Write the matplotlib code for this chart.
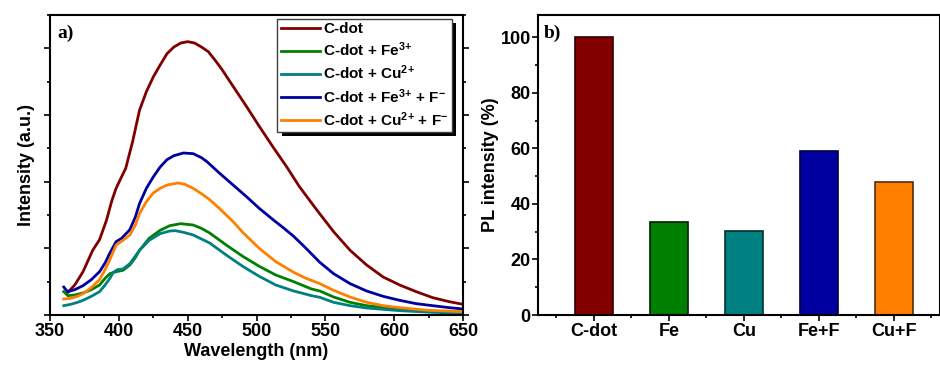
import matplotlib
matplotlib.use("Agg")
import matplotlib.pyplot as plt
from matplotlib.patches import Rectangle
from matplotlib.ticker import MultipleLocator, FixedLocator, NullFormatter

plt.rcParams['font.family'] = ['Liberation Sans', 'DejaVu Sans']
plt.rcParams['font.weight'] = 'bold'
plt.rcParams['mathtext.fontset'] = 'custom'
plt.rcParams['mathtext.rm'] = 'Liberation Sans:bold'
plt.rcParams['mathtext.bf'] = 'Liberation Sans:bold'
plt.rcParams['mathtext.it'] = 'Liberation Sans:bold'

# ---------------- data: panel a (PL spectra) ----------------
wl_cdot = [363, 368, 374, 381, 386, 391, 395, 398, 401, 405, 410, 415, 420, 425, 430, 435,
           440, 445, 450, 455, 460, 465, 470, 475, 483, 493, 502, 512, 522, 531, 544, 556,
           568, 580, 592, 604, 616, 628, 640, 650]
int_cdot = [0.34, 0.45, 0.65, 0.97, 1.13, 1.42, 1.72, 1.90, 2.03, 2.20, 2.60, 3.07, 3.35, 3.57,
            3.75, 3.92, 4.02, 4.08, 4.10, 4.08, 4.02, 3.95, 3.82, 3.68, 3.43, 3.12, 2.83, 2.52,
            2.22, 1.93, 1.57, 1.25, 0.97, 0.75, 0.57, 0.45, 0.35, 0.26, 0.20, 0.16]

wl_fe = [360, 363, 368, 374, 380, 386, 390, 393.5, 398, 403, 408, 412, 415, 422, 430, 437,
         445, 454, 460, 466, 478, 490, 502, 514, 527, 540, 546, 556, 568, 580, 604, 628, 650]
int_fe = [0.35, 0.29, 0.30, 0.33, 0.38, 0.45, 0.55, 0.62, 0.65, 0.67, 0.75, 0.86, 0.97, 1.15,
          1.27, 1.34, 1.37, 1.35, 1.30, 1.23, 1.05, 0.88, 0.73, 0.60, 0.50, 0.39, 0.36, 0.27,
          0.19, 0.14, 0.085, 0.055, 0.04]

wl_cu = [360, 365, 370, 374, 380, 386, 390, 393.5, 396, 399, 403, 408, 415, 422, 430, 437,
         441, 447, 454, 466, 478, 490, 502, 514, 527, 540, 546, 556, 568, 580, 604, 628, 650]
int_cu = [0.14, 0.16, 0.19, 0.22, 0.28, 0.35, 0.45, 0.55, 0.64, 0.68, 0.69, 0.77, 0.97, 1.12,
          1.22, 1.26, 1.265, 1.24, 1.20, 1.08, 0.90, 0.73, 0.58, 0.45, 0.36, 0.29, 0.265, 0.19,
          0.14, 0.105, 0.065, 0.04, 0.025]

wl_fef = [360, 361.5, 363, 368, 374, 380, 386, 390, 393.5, 398, 402, 408, 412, 415, 420, 425,
          430, 435, 440, 447, 454, 460, 464, 473, 483, 493, 502, 512, 520, 527, 535, 546, 556,
          568, 580, 592, 604, 616, 628, 640, 650]
int_fef = [0.42, 0.38, 0.35, 0.38, 0.44, 0.53, 0.65, 0.78, 0.93, 1.10, 1.15, 1.28, 1.47, 1.67,
           1.90, 2.07, 2.22, 2.33, 2.39, 2.43, 2.42, 2.36, 2.30, 2.13, 1.95, 1.77, 1.60, 1.43,
           1.30, 1.18, 1.02, 0.79, 0.62, 0.47, 0.36, 0.28, 0.22, 0.17, 0.14, 0.11, 0.09]

wl_cuf = [360, 365, 370, 374, 380, 386, 390, 393.5, 398, 403, 408, 412, 415, 420, 425, 430,
          435, 443, 448, 454, 460, 466, 473, 478, 483, 490, 502, 514, 527, 536, 546, 556, 568,
          580, 592, 604, 625, 650]
int_cuf = [0.24, 0.25, 0.28, 0.32, 0.41, 0.53, 0.68, 0.83, 1.05, 1.12, 1.20, 1.35, 1.52, 1.70,
           1.83, 1.90, 1.95, 1.98, 1.96, 1.90, 1.82, 1.73, 1.60, 1.50, 1.40, 1.24, 1.00, 0.80,
           0.64, 0.55, 0.47, 0.37, 0.27, 0.19, 0.14, 0.11, 0.07, 0.05]

series_labels = ['C-dot', r'C-dot + Fe$^{3}$$^{+}$', r'C-dot + Cu$^{2}$$^{+}$',
                 r'C-dot + Fe$^{3}$$^{+}$ + F$^{-}$', r'C-dot + Cu$^{2}$$^{+}$ + F$^{-}$']
series_colors = ['#800000', '#008000', '#008080', '#0000A0', '#FF8000']

# ---------------- data: panel b (bar chart) ----------------
bar_categories = ['C-dot', 'Fe', 'Cu', 'Fe+F', 'Cu+F']
bar_values = [100, 33.4, 30.2, 59.2, 47.9]
bar_edges = ['#300000', '#002000', '#003030', '#000040', '#503010']

x_ticks_a = [350, 400, 450, 500, 550, 600, 650]
y_ticks_b = [0, 20, 40, 60, 80, 100]

W, H = 940, 369
fig = plt.figure(figsize=(W / 100, H / 100), dpi=100)

# ---------- panel a ----------
ax1 = fig.add_axes([50 / W, (H - 315) / H, 413 / W, 300 / H])
xs = [wl_cdot, wl_fe, wl_cu, wl_fef, wl_cuf]
ys = [int_cdot, int_fe, int_cu, int_fef, int_cuf]
for x, y, lab, col in zip(xs, ys, series_labels, series_colors):
    ax1.plot(x, y, color=col, lw=2.0, label=lab, solid_joinstyle='round')

ax1.set_xlim(350, 650)
ax1.set_ylim(0, 4.5)
ax1.xaxis.set_major_locator(FixedLocator(x_ticks_a))
ax1.xaxis.set_minor_locator(MultipleLocator(25))
ax1.yaxis.set_major_locator(MultipleLocator(1))
ax1.yaxis.set_minor_locator(MultipleLocator(0.5))
ax1.yaxis.set_major_formatter(NullFormatter())
ax1.tick_params(axis='both', which='both', direction='out', width=1.2)
ax1.tick_params(axis='both', which='major', length=4.5)
ax1.tick_params(axis='both', which='minor', length=2.5)
ax1.tick_params(axis='y', which='both', left=True, right=True)
ax1.tick_params(axis='x', which='major', labelsize=13, pad=1.5)
for lab in ax1.get_xticklabels():
    lab.set_fontweight('bold')
for s in ax1.spines.values():
    s.set_linewidth(1.5)
ax1.set_xlabel('Wavelength (nm)', fontsize=13, fontweight='bold', labelpad=2)
ax1.set_ylabel('Intensity (a.u.)', fontsize=13, fontweight='bold', labelpad=3)
ax1.text(0.019, 0.968, 'a)', transform=ax1.transAxes, ha='left', va='top',
         fontsize=14, fontweight='bold', family=['Liberation Serif', 'DejaVu Serif'])

leg = ax1.legend(loc='upper right', bbox_to_anchor=(0.9726, 0.987), borderaxespad=0,
                 fancybox=False, frameon=True, framealpha=1, fontsize=11,
                 handlelength=2.6, handletextpad=0.2, labelspacing=0.3, borderpad=0.2)
leg.get_frame().set_edgecolor('#404040')
leg.get_frame().set_linewidth(1.0)
for t in leg.get_texts():
    t.set_fontweight('bold')
for h in leg.get_lines():
    h.set_linewidth(2.0)

# ---------- panel b ----------
ax2 = fig.add_axes([537.7 / W, (H - 315) / H, (W - 537.7) / W, 300 / H])
pos = list(range(1, len(bar_categories) + 1))
ax2.bar(pos, bar_values, width=0.5, color=series_colors, edgecolor=bar_edges, linewidth=1.2)
ax2.set_xlim(0.25, 0.25 + (W - 537.7) / 75)
ax2.set_ylim(0, 108)
ax2.xaxis.set_major_locator(FixedLocator(pos))
ax2.set_xticklabels(bar_categories, fontsize=13, fontweight='bold')
ax2.xaxis.set_minor_locator(FixedLocator([p - 0.5 for p in pos] + [5.5]))
ax2.yaxis.set_major_locator(FixedLocator(y_ticks_b))
ax2.yaxis.set_minor_locator(MultipleLocator(10))
ax2.set_yticklabels([str(v) for v in y_ticks_b], fontsize=13, fontweight='bold')
ax2.tick_params(axis='both', which='both', direction='out', width=1.2)
ax2.tick_params(axis='both', which='major', length=4.5)
ax2.tick_params(axis='both', which='minor', length=2.5)
ax2.tick_params(axis='y', which='major', pad=0.5)
ax2.tick_params(axis='x', which='major', pad=1.5)
for s in ax2.spines.values():
    s.set_linewidth(1.5)
ax2.set_ylabel('PL intensity (%)', fontsize=13, fontweight='bold', labelpad=1)
ax2.text(0.016, 0.968, 'b)', transform=ax2.transAxes, ha='left', va='top',
         fontsize=14, fontweight='bold', family=['Liberation Serif', 'DejaVu Serif'])

# legend shadow (black, offset down-right)
fig.canvas.draw()
r = fig.canvas.get_renderer()
bb = leg.get_window_extent(r)
off = 4.5
inv = ax1.transAxes.inverted()
(x0, y0) = inv.transform((bb.x0 + off, bb.y0 - off))
(x1, y1) = inv.transform((bb.x1 + off, bb.y1 - off))
ax1.add_patch(Rectangle((x0, y0), x1 - x0, y1 - y0, transform=ax1.transAxes,
                        facecolor='black', edgecolor='none', zorder=4.9, clip_on=False))
leg.set_zorder(5)

fig.savefig('out.png', dpi=100)
